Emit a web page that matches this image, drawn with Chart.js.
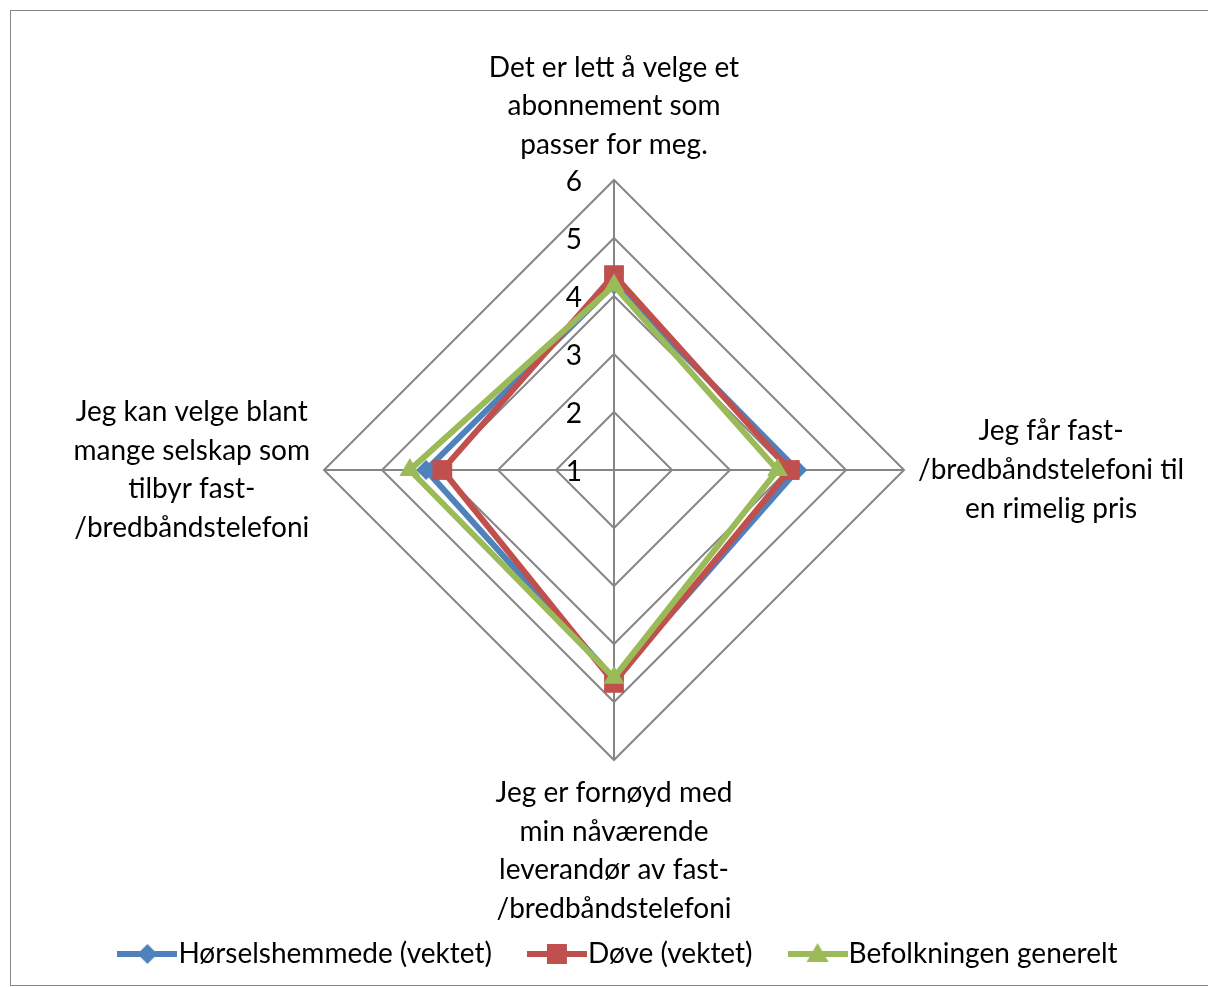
<!DOCTYPE html>
<html>
<head>
<meta charset="utf-8">
<script src="https://cdn.jsdelivr.net/npm/chart.js@4.4.1/dist/chart.umd.min.js"></script>
<style>
    body { margin: 0; background: #fff; overflow: hidden; }
    .frame { position: absolute; left: 10px; top: 10px; width: 1220px; height: 974px; border: 1px solid #868686; }
    .wrap { position: absolute; left: 0; top: 0; width: 1208px; height: 988px; }
</style>
</head>
<body>
<div class="frame"></div>
<div class="wrap"><canvas id="radarChart"></canvas></div>
<script>
// kategorier (en akse per utsagn)
const categories = [
    ['Det er lett å velge et', 'abonnement som', 'passer for meg.'],
    ['Jeg får fast-', '/bredbåndstelefoni til', 'en rimelig pris'],
    ['Jeg er fornøyd med', 'min nåværende', 'leverandør av fast-', '/bredbåndstelefoni'],
    ['Jeg kan velge blant', 'mange selskap som', 'tilbyr fast-', '/bredbåndstelefoni']
];
const seriesNames = ['Hørselshemmede (vektet)', 'Døve (vektet)', 'Befolkningen generelt'];
const horselshemmede = [4.2, 4.16, 4.6, 4.24];
const dove = [4.36, 4.03, 4.67, 3.96];
const befolkningen = [4.18, 3.82, 4.58, 4.52];
const tickLabels = ['1', '2', '3', '4', '5', '6'];

const FONT = 'Lato, "Open Sans", sans-serif';
const FONT_SIZE = 28;
const colors = ['#4F81BD', '#C0504D', '#9BBB59'];
const markers = ['rectRot', 'rect', 'triangle'];

// liten strek + markør til forklaringen
function legendIcon(color, marker) {
    const c = document.createElement('canvas');
    c.width = 60;
    c.height = 26;
    const ctx = c.getContext('2d');
    ctx.strokeStyle = color;
    ctx.fillStyle = color;
    ctx.lineWidth = 6;
    ctx.beginPath();
    ctx.moveTo(0, 13);
    ctx.lineTo(60, 13);
    ctx.stroke();
    ctx.beginPath();
    if (marker === 'rect') {
        ctx.rect(20, 3, 20, 20);
    } else if (marker === 'rectRot') {
        ctx.moveTo(30, 3); ctx.lineTo(40, 13); ctx.lineTo(30, 23); ctx.lineTo(20, 13);
    } else {
        ctx.moveTo(30, 2); ctx.lineTo(41, 21); ctx.lineTo(19, 21);
    }
    ctx.closePath();
    ctx.fill();
    return c;
}

// aksetekster og verdietiketter tegnes selv for å få Excel-plasseringen
const labelPlugin = {
    id: 'excelLabels',
    beforeDatasetsDraw(chart) {
        const scale = chart.scales.r;
        const ctx = chart.ctx;
        ctx.save();
        ctx.font = FONT_SIZE + 'px ' + FONT;
        ctx.fillStyle = '#000';
        ctx.textAlign = 'right';
        ctx.textBaseline = 'middle';
        scale.ticks.forEach((tick, i) => {
            const d = scale.getDistanceFromCenterForValue(tick.value);
            ctx.fillText(tickLabels[i], scale.xCenter - 32, scale.yCenter - d + 2);
        });
        ctx.restore();
    },
    afterDraw(chart) {
        const scale = chart.scales.r;
        const ctx = chart.ctx;
        const lineH = 38.6;
        ctx.save();
        ctx.font = FONT_SIZE + 'px ' + FONT;
        ctx.fillStyle = '#000';
        ctx.textAlign = 'center';
        ctx.textBaseline = 'middle';
        categories.forEach((lines, i) => {
            const p = scale.getPointPosition(i, scale.drawingArea);
            const maxW = Math.max(...lines.map(l => ctx.measureText(l).width));
            let cx = p.x, firstY;
            if (i === 0) {
                firstY = p.y - 35 - (lines.length - 1) * lineH;
            } else if (i === 2) {
                firstY = p.y + 33;
            } else {
                cx = i === 1 ? p.x + 14 + maxW / 2 : p.x - 14 - maxW / 2;
                firstY = p.y - (lines.length - 1) * lineH / 2;
            }
            lines.forEach((l, k) => ctx.fillText(l, cx, firstY + k * lineH));
        });
        ctx.restore();
    }
};

const allSeries = [horselshemmede, dove, befolkningen];

new Chart(document.getElementById('radarChart'), {
    type: 'radar',
    data: {
        labels: categories,
        datasets: allSeries.map((values, i) => ({
            label: seriesNames[i],
            data: values,
            borderColor: colors[i],
            backgroundColor: colors[i],
            borderWidth: 6,
            fill: false,
            pointStyle: markers[i],
            pointRadius: [10, 14, 12][i],
            pointBorderWidth: 0,
            pointBackgroundColor: colors[i],
            order: 2 - i
        }))
    },
    options: {
        responsive: true,
        maintainAspectRatio: false,
        animation: false,
        layout: { padding: { bottom: 10, left: 40 } },
        plugins: {
            tooltip: { enabled: false },
            legend: {
                position: 'bottom',
                labels: {
                    usePointStyle: true,
                    pointStyleWidth: 34,
                    boxHeight: 26,
                    padding: 48,
                    color: '#000',
                    font: { family: FONT, size: FONT_SIZE },
                    generateLabels: function(chart) {
                        return chart.data.datasets.map((ds, i) => ({
                            text: ds.label,
                            fillStyle: colors[i],
                            strokeStyle: colors[i],
                            lineWidth: 0,
                            fontColor: '#000',
                            pointStyle: legendIcon(colors[i], markers[i]),
                            datasetIndex: i,
                            hidden: false
                        }));
                    }
                }
            }
        },
        scales: {
            r: {
                min: 1,
                max: 6,
                ticks: { stepSize: 1, display: false },
                pointLabels: { display: false },
                grid: { color: '#868686', lineWidth: 2 },
                angleLines: { color: '#868686', lineWidth: 2 },
                // plassering som i originalen
                afterFit: function(scale) {
                    scale.xCenter = 614;
                    scale.yCenter = 470;
                    scale.drawingArea = 290;
                }
            }
        }
    },
    plugins: [labelPlugin]
});
</script>
</body>
</html>
